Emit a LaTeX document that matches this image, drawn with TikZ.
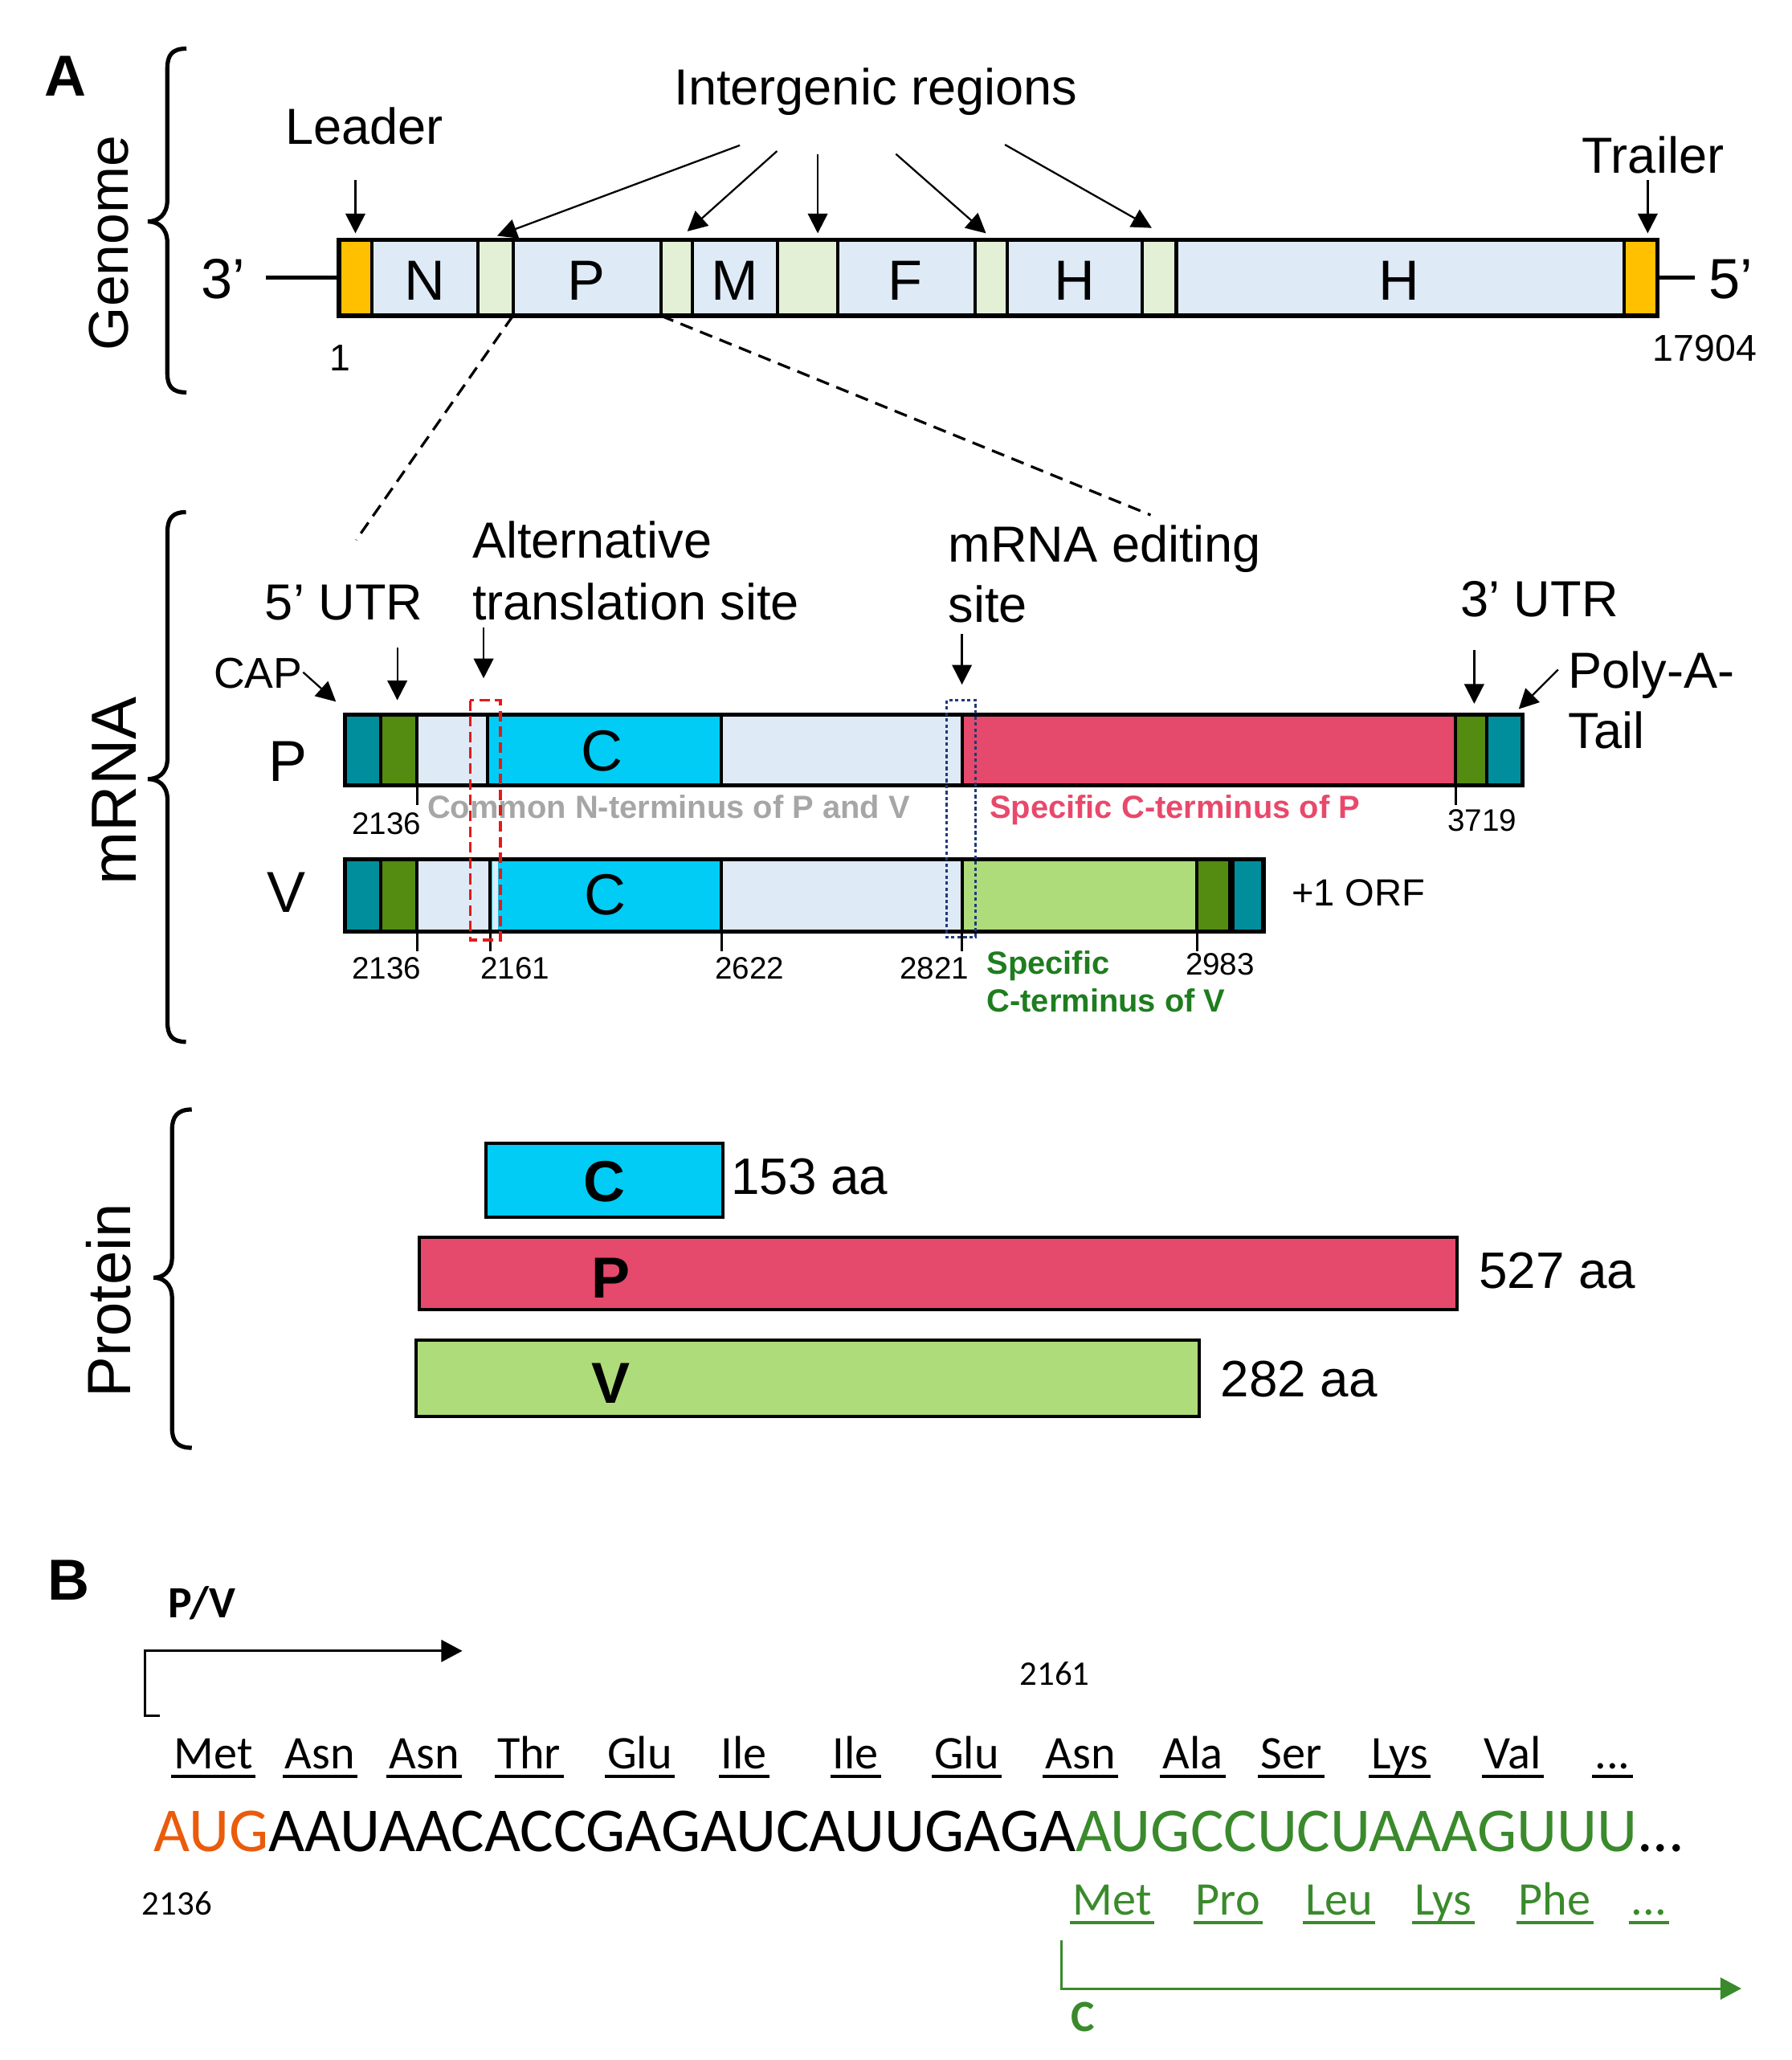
\documentclass[tikz,border=0pt]{standalone}
\usepackage{fontspec}
\setmainfont{Liberation Sans}
\newfontfamily\calfont{Carlito}
\usetikzlibrary{arrows.meta,fit}
\newcommand\fz[1]{\fontsize{#1pt}{#1pt}\selectfont}
\definecolor{gblue}{HTML}{DEEAF6}
\definecolor{ggreen}{HTML}{E3F0D6}
\definecolor{gorange}{HTML}{FFC000}
\definecolor{mteal}{HTML}{008E9C}
\definecolor{mdgreen}{HTML}{548B11}
\definecolor{mcyan}{HTML}{00CCF5}
\definecolor{mred}{HTML}{E5496B}
\definecolor{mlgreen}{HTML}{AEDC7A}
\definecolor{tgray}{HTML}{A6A6A6}
\definecolor{tpink}{HTML}{E8496B}
\definecolor{tgreen}{HTML}{1E7D1E}
\definecolor{bgreen}{HTML}{3A8A2C}
\definecolor{borange}{HTML}{EA5B0C}
\definecolor{rdash}{HTML}{E31A1A}
\definecolor{bdot}{HTML}{1F3A7A}
\newcommand\segm[6]{\node[segbox, fill=#6, fit={(#2,#4) (#3,#5)}] (#1) {};}
\newcommand\amino[5]{\node[amino, text=#5] (#1) at (#2,#3) {#4};
  \draw[ulin, draw=#5] ([yshift=-3pt]#1.base west) -- ([yshift=-3pt]#1.base east);}
\begin{document}
\begin{tikzpicture}[x=0.5pt,y=-0.5pt,
  every node/.style={inner sep=0pt, outer sep=0pt},
  segbox/.style={draw, line width=1.2pt, inner sep=0pt},
  barframe/.style={draw, line width=1.6pt, inner sep=0pt},
  arr/.style={-{Triangle[length=7.5pt,width=7.5pt]}, line width=0.7pt},
  barr/.style={-{Triangle[length=8pt,width=8.3pt]}, line width=0.9pt},
  bracel/.style={line width=1.6pt},
  lbl/.style={font=\fz{19.3}, anchor=base},
  lbll/.style={font=\fz{19.3}, anchor=base west},
  glet/.style={font=\fz{21.5}, anchor=base},
  num/.style={font=\fz{11.8}, anchor=base},
  bnum/.style={font=\calfont\fz{13.1}},
  tickln/.style={line width=1pt},
  amino/.style={font=\calfont\fz{17.8}, anchor=base, inner xsep=1pt},
  ulin/.style={line width=1.3pt},
  dashl/.style={line width=1pt, dash pattern=on 5pt off 3pt},
  boxlet/.style={font=\bfseries\fz{22}, anchor=base},
  aalbl/.style={font=\fz{19.5}, anchor=base west},
  smallb/.style={font=\bfseries\fz{12.2}, anchor=base},
]
\useasboundingbox (0,0) rectangle (1364,1568);

% ================= A: Genome =================
\node[font=\bfseries\fz{22}, anchor=base] (labA) at (50,73) {A};
\draw[bracel] (142,37) .. controls (131,37) and (127.4,42) .. (127.4,52) -- (127.4,152)
  .. controls (127.4,164) and (120,168.6) .. (112.5,168.6)
  .. controls (120,168.6) and (127.4,173) .. (127.4,185) -- (127.4,284)
  .. controls (127.4,294) and (131,298.7) .. (142,298.7);
\node[font=\fz{21.3}, rotate=90] (genome) at (83,185) {Genome};

\segm{gL}{258}{283}{182.6}{240.4}{gorange}
\segm{gN}{283}{364}{182.6}{240.4}{gblue}
\segm{gI1}{364}{390.5}{182.6}{240.4}{ggreen}
\segm{gP}{390.5}{503.3}{182.6}{240.4}{gblue}
\segm{gI2}{503.3}{527}{182.6}{240.4}{ggreen}
\segm{gM}{527}{592}{182.6}{240.4}{gblue}
\segm{gI3}{592}{637.7}{182.6}{240.4}{ggreen}
\segm{gF}{637.7}{742.6}{182.6}{240.4}{gblue}
\segm{gI4}{742.6}{766.6}{182.6}{240.4}{ggreen}
\segm{gH1}{766.6}{869.7}{182.6}{240.4}{gblue}
\segm{gI5}{869.7}{895.6}{182.6}{240.4}{ggreen}
\segm{gH2}{895.6}{1236.3}{182.6}{240.4}{gblue}
\segm{gT}{1236.3}{1261.7}{182.6}{240.4}{gorange}
\node[barframe, fit={(258,182.6) (1261.7,240.4)}] (gbar) {};
\draw[line width=1.7pt] (gI5.north east) -- (gI5.south east);

\node[glet] (tN) at (323.5,228.6) {N};
\node[glet] (tP) at (446.5,228.6) {P};
\node[glet] (tM) at (559.5,228.6) {M};
\node[glet] (tF) at (689,228.6) {F};
\node[glet] (tH1) at (818,228.6) {H};
\node[glet] (tH2) at (1065.5,228.6) {H};

\node[font=\fz{21.5}, anchor=base] (t3p) at (169.7,227.2) {3’};
\node[font=\fz{21.5}, anchor=base] (t5p) at (1318,227.2) {5’};
\coordinate (g3end) at (202.3,211.5);
\coordinate (g5end) at (1290.5,211.5);
\draw[line width=1.5pt] (g3end) -- (gL.west);
\draw[line width=1.5pt] (gT.east) -- (g5end);
\node[font=\fz{14.2}, anchor=base] (n1) at (258.8,282) {1};
\node[font=\fz{14.2}, anchor=base] (n17904) at (1298,275) {17904};

\node[lbl] (leader) at (277.3,109.5) {Leader};
\coordinate (ldA) at (270.6,137); \coordinate (ldB) at (270.6,177.6);
\draw[arr] (ldA) -- (ldB);
\node[lbl] (trailer) at (1258.5,132) {Trailer};
\coordinate (trA) at (1254.5,137); \coordinate (trB) at (1254.5,177.6);
\draw[arr] (trA) -- (trB);

\node[lbl] (igr) at (666.8,80) {Intergenic regions};
\coordinate (ig1s) at (563.3,110.6); \coordinate (ig1e) at (378.5,179.5);
\coordinate (ig2s) at (591.6,115);   \coordinate (ig2e) at (523.3,176.1);
\coordinate (ig3s) at (622.6,117.7); \coordinate (ig3e) at (622.6,177.6);
\coordinate (ig4s) at (682.1,117.2); \coordinate (ig4e) at (750.7,177.6);
\coordinate (ig5s) at (765.1,110.1); \coordinate (ig5e) at (876.9,173.5);
\draw[arr] (ig1s) -- (ig1e);
\draw[arr] (ig2s) -- (ig2e);
\draw[arr] (ig3s) -- (ig3e);
\draw[arr] (ig4s) -- (ig4e);
\draw[arr] (ig5s) -- (ig5e);

\coordinate (dl1) at (271.2,411);
\coordinate (dl2) at (876,392);
\draw[dashl] (gP.south west) -- (dl1);
\draw[dashl] (gP.south east) -- (dl2);

% ================= A: mRNA =================
\draw[bracel] (141.6,389.8) .. controls (131,389.8) and (127.5,395) .. (127.5,405) -- (127.5,577)
  .. controls (127.5,589) and (120,593) .. (112.5,593)
  .. controls (120,593) and (127.5,597) .. (127.5,609) -- (127.5,778)
  .. controls (127.5,788) and (131,793) .. (141.6,793);
\node[font=\fz{24.3}, rotate=90] (mrna) at (87,602) {mRNA};

\node[lbl] (utr5) at (261.8,472) {5’ UTR};
\coordinate (u5A) at (302.5,492.7); \coordinate (u5B) at (302.5,533);
\draw[arr] (u5A) -- (u5B);
\node[font=\fz{16.4}, anchor=base] (cap) at (196.5,523.6) {CAP};
\coordinate (capA) at (230.8,511.7); \coordinate (capB) at (255.8,534.1);
\draw[arr] (capA) -- (capB);
\node[lbll] (alt1) at (359.6,424.8) {Alternative};
\node[lbll] (alt2) at (359.6,472) {translation site};
\coordinate (altA) at (368.2,477.9); \coordinate (altB) at (368.2,516.3);
\draw[arr] (altA) -- (altB);
\node[lbll] (ed1) at (722.1,427.5) {mRNA editing};
\node[lbll] (ed2) at (722.1,473.9) {site};
\coordinate (edA) at (732.4,482.6); \coordinate (edB) at (732.4,521.1);
\draw[arr] (edA) -- (edB);
\node[lbl] (utr3) at (1172,469.4) {3’ UTR};
\coordinate (u3A) at (1122.4,495); \coordinate (u3B) at (1122.4,535.7);
\draw[arr] (u3A) -- (u3B);
\node[lbll] (poly1) at (1194.2,523.8) {Poly-A-};
\node[lbll] (poly2) at (1194.2,569.7) {Tail};
\coordinate (paA) at (1186.3,509.7); \coordinate (paB) at (1156.3,539.7);
\draw[arr] (paA) -- (paB);

% P mRNA
\node[font=\fz{22}, anchor=base] (lblP) at (219.2,594.7) {P};
\segm{pa}{262.5}{290}{544}{598}{mteal}
\segm{pb}{290}{317.5}{544}{598}{mdgreen}
\segm{pc}{317.5}{371.2}{544}{598}{gblue}
\segm{pd}{371.2}{549.3}{544}{598}{mcyan}
\segm{pe}{549.3}{732.4}{544}{598}{gblue}
\segm{pf}{732.4}{1108.3}{544}{598}{mred}
\segm{pg}{1108.3}{1132}{544}{598}{mdgreen}
\segm{ph}{1132}{1159}{544}{598}{mteal}
\node[barframe, fit={(262.5,544) (1159,598)}] (pbar) {};
\node[font=\fz{22}, anchor=base] (pC) at (458.5,586.5) {C};

% V mRNA
\node[font=\fz{22}, anchor=base] (lblV) at (218.2,694.2) {V};
\segm{va}{262.5}{290}{654}{709}{mteal}
\segm{vb}{290}{317.5}{654}{709}{mdgreen}
\segm{vc}{317.5}{373.3}{654}{709}{gblue}
\segm{vd}{373.3}{549.3}{654}{709}{mcyan}
\fill[gblue] (374.8,655.3) rectangle (378.9,707.7);
\segm{ve}{549.3}{732.4}{654}{709}{gblue}
\segm{vf}{732.4}{911.3}{654}{709}{mlgreen}
\segm{vg}{911.3}{937.5}{654}{709}{mdgreen}
\segm{vh}{937.5}{962}{654}{709}{mteal}
\node[barframe, fit={(262.5,654) (962,709)}] (vbar) {};
\draw[line width=2.2pt] (vh.north west) -- (vh.south west);
\node[font=\fz{22}, anchor=base] (vC) at (460.5,696) {C};

% ticks and numbers
\draw[tickln] (pb.south east) -- ++(0,14.6);
\draw[tickln] (pf.south east) -- ++(0,14.6);
\draw[tickln] (vb.south east) -- ++(0,15);
\draw[tickln] (vc.south east) -- ++(0,15);
\draw[tickln] (vd.south east) -- ++(0,15);
\draw[tickln] (ve.south east) -- ++(0,15);
\draw[tickln] (vf.south east) -- ++(0,15);
\node[num] (np2136) at (294.4,635.2) {2136};
\node[num] (np3719) at (1128.3,632.5) {3719};
\node[num] (nv2136) at (294.4,745.2) {2136};
\node[num] (nv2161) at (392.2,745.2) {2161};
\node[num] (nv2622) at (570.7,745.2) {2622};
\node[num] (nv2821) at (711.4,745.2) {2821};
\node[num] (nv2983) at (928.9,742) {2983};

\node[smallb, text=tgray] (common) at (509.1,622.8) {Common N-terminus of P and V};
\node[smallb, anchor=base west, text=tpink] (specP) at (753.5,622.8) {Specific C-terminus of P};
\node[smallb, anchor=base west, text=tgreen] (specV1) at (751.3,741.3) {Specific};
\node[smallb, anchor=base west, text=tgreen] (specV2) at (751.3,770.4) {C-terminus of V};
\node[font=\fz{14.4}, anchor=base west] (orf) at (983.5,689.5) {+1 ORF};

% highlight rectangles
\draw[rdash, line width=1pt, dash pattern=on 4pt off 2pt] (358,533) rectangle (381,715.5);
\draw[bdot, line width=1pt, dash pattern=on 1.3pt off 1pt] (720.6,533) rectangle (742.6,713.4);

% ================= A: Protein =================
\draw[bracel] (146,844.5) .. controls (135,844.5) and (131,850) .. (131,860) -- (131,957)
  .. controls (131,968) and (124,972.5) .. (117,972.5)
  .. controls (124,972.5) and (131,977) .. (131,988) -- (131,1087)
  .. controls (131,1097) and (135,1102) .. (146,1102);
\node[font=\fz{23.3}, rotate=90] (protein) at (83,990) {Protein};

\node[segbox, fill=mcyan, fit={(370,870.5) (550.2,926.2)}] (protC) {};
\node[segbox, fill=mred, fit={(319.3,941.9) (1109.5,997)}] (protP) {};
\node[segbox, fill=mlgreen, fit={(316.8,1020) (913.1,1077.9)}] (protV) {};
\node[boxlet] (bC) at (460,914.4) {C};
\node[boxlet] (bP) at (465,987.8) {P};
\node[boxlet] (bV) at (465,1068.3) {V};
\node[aalbl] (aaC) at (556.6,909.3) {153 aa};
\node[aalbl] (aaP) at (1126,980.6) {527 aa};
\node[aalbl] (aaV) at (929.4,1063.2) {282 aa};

% ================= B =================
\node[font=\bfseries\fz{22}, anchor=base] (labB) at (52,1218) {B};
\node[font=\calfont\bfseries\fz{17}, anchor=base] (pv) at (153.7,1231.5) {P/V};
\coordinate (pvfoot) at (122,1306);
\coordinate (pvcorner) at (110.5,1306);
\coordinate (pvtop) at (110.5,1256.6);
\coordinate (pvtip) at (352,1256.6);
\draw[barr] (pvfoot) -- (pvcorner) -- (pvtop) -- (pvtip);

\node[bnum] (b2161) at (803,1274) {2161};
\node[bnum] (b2136) at (134.8,1449) {2136};

\amino{a1}{162.5}{1346}{Met}{black}
\amino{a2}{243.6}{1346}{Asn}{black}
\amino{a3}{323}{1346}{Asn}{black}
\amino{a4}{402.8}{1346}{Thr}{black}
\amino{a5}{487}{1346}{Glu}{black}
\amino{a6}{566.5}{1346}{Ile}{black}
\amino{a7}{651.5}{1346}{Ile}{black}
\amino{a8}{736}{1346}{Glu}{black}
\amino{a9}{822.6}{1346}{Asn}{black}
\amino{a10}{908}{1346}{Ala}{black}
\amino{a11}{983}{1346}{Ser}{black}
\amino{a12}{1065.8}{1346}{Lys}{black}
\amino{a13}{1151.8}{1346}{Val}{black}
\amino{a14}{1227.6}{1346}{...}{black}

\node[font=\calfont\fz{23.8}, anchor=base west] (seq) at (117.4,1409.5)
  {\textcolor{borange}{AUG}AAUAACACCGAGAUCAUUGAGA\textcolor{bgreen}{AUGCCUCUAAAGUUU}...};

\amino{c1}{846.8}{1457.5}{Met}{bgreen}
\amino{c2}{935}{1457.5}{Pro}{bgreen}
\amino{c3}{1019.5}{1457.5}{Leu}{bgreen}
\amino{c4}{1098.9}{1457.5}{Lys}{bgreen}
\amino{c5}{1183.7}{1457.5}{Phe}{bgreen}
\amino{c6}{1255.5}{1457.5}{...}{bgreen}

\coordinate (cstart) at (808,1477);
\coordinate (ccorner) at (808,1513.6);
\coordinate (ctip) at (1325.8,1513.6);
\draw[barr, bgreen] (cstart) -- (ccorner) -- (ctip);
\node[font=\calfont\bfseries\fz{17}, text=bgreen] (cC) at (824.6,1535) {C};
\end{tikzpicture}
\end{document}
